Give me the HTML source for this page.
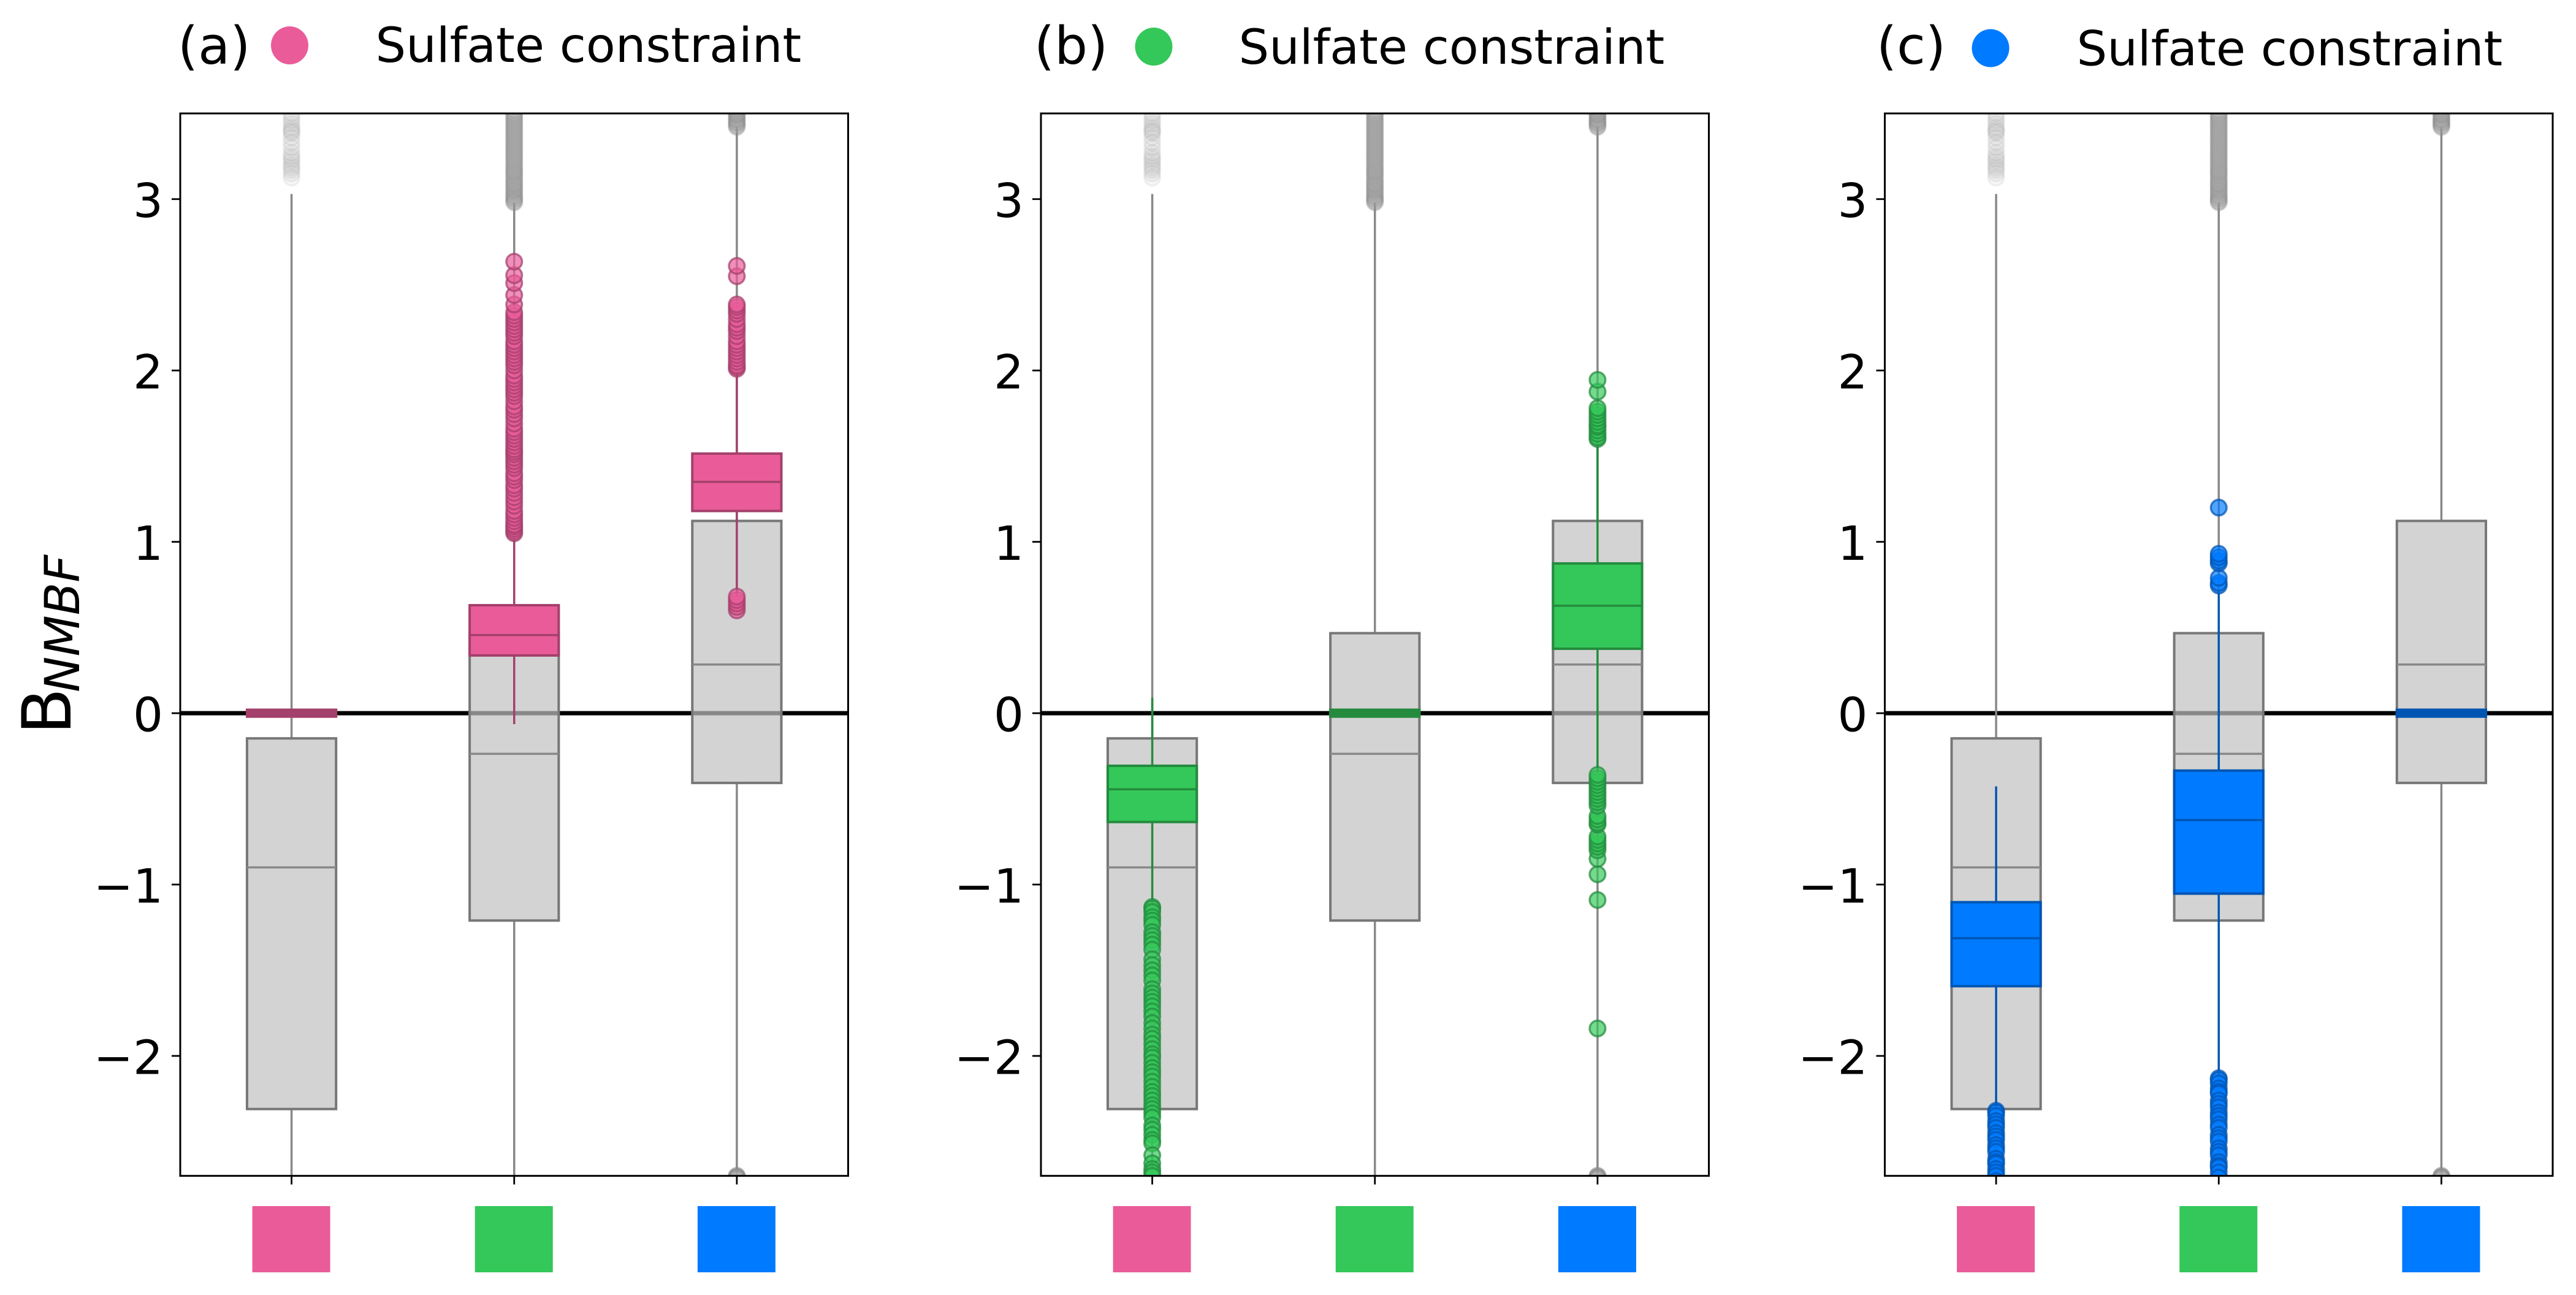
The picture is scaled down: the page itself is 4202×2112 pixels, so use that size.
<!DOCTYPE html>
<html lang="en">
<head>
<meta charset="utf-8">
<title>Sulfate constraint box plots</title>
<style>
html,body{margin:0;padding:0;background:#fff;width:4202px;height:2112px;overflow:hidden}
svg{display:block}
text{font-family:"DejaVu Sans","Liberation Sans",sans-serif;fill:#000}
</style>
</head>
<body>
<svg id="figure" xmlns="http://www.w3.org/2000/svg" width="4202" height="2112" viewBox="0 0 4202 2112">
  <rect x="0" y="0" width="4202" height="2112" fill="#fff"/>

  <text transform="translate(115,1198) rotate(-90)" font-size="111">B</text>
  <text transform="translate(129,1129) rotate(-90)" font-size="78" font-style="italic">NMBF</text>

  <g>
    <text x="290" y="104" font-size="85">(a)</text>
    <ellipse cx="472.5" cy="74" rx="30.5" ry="31" fill="#e95c99"/>
    <text x="612.5" y="101" font-size="78.3">Sulfate constraint</text>
  </g>
  <g>
    <text x="1687" y="104" font-size="85">(b)</text>
    <ellipse cx="1882" cy="76" rx="30.5" ry="31" fill="#34c759"/>
    <text x="2020.5" y="104" font-size="78.3">Sulfate constraint</text>
  </g>
  <g>
    <text x="3061" y="104" font-size="85">(c)</text>
    <ellipse cx="3247" cy="78.5" rx="30.5" ry="31" fill="#007aff"/>
    <text x="3387.5" y="106.5" font-size="78.3">Sulfate constraint</text>
  </g>
</svg>

<script>
// ---------- chart data ----------
const categories = ['pink', 'green', 'blue'];
const categoryColors = ['#e95c99', '#34c759', '#007aff'];
const categoryEdges = ['#a3406b', '#248b3e', '#0055b2'];
const panelNames = ['a', 'b', 'c'];
const yTickValues = [-2, -1, 0, 1, 2, 3];
const yTickLabels = ['\u22122', '\u22121', '0', '1', '2', '3'];

// reference (gray) boxes, shared by every panel
const grayQ1 = [-2.31, -1.21, -0.407];
const grayMedian = [-0.9, -0.237, 0.284];
const grayQ3 = [-0.147, 0.467, 1.122];
const grayWhiskerLow = [-2.95, -2.95, -2.7];
const grayWhiskerHigh = [3.03, 2.98, 3.42];
const grayFlierOpacity = [0.09, 0.19, 0.19];
const grayFliers1 = [3.125, 3.15, 3.17, 3.185, 3.2, 3.22, 3.235, 3.25, 3.27, 3.3, 3.33, 3.36, 3.385, 3.395, 3.405, 3.42, 3.44, 3.46, 3.48, 3.5];
const grayFliers2 = [2.98, 2.985, 2.99, 3.0, 3.005, 3.015, 3.02, 3.03, 3.04, 3.05, 3.055, 3.065, 3.075, 3.085, 3.09, 3.1, 3.11, 3.12, 3.13, 3.14, 3.15, 3.16, 3.165, 3.175, 3.185, 3.195, 3.205, 3.215, 3.225, 3.235, 3.245, 3.255, 3.265, 3.275, 3.285, 3.295, 3.305, 3.315, 3.325, 3.335, 3.345, 3.355, 3.365, 3.375, 3.385, 3.395, 3.405, 3.415, 3.425, 3.435, 3.445, 3.455, 3.465, 3.475, 3.485, 3.495, 3.505, 3.52];
const grayFliers3 = [-2.7, -2.7, -2.7, -2.705, -2.705, -2.71, -2.71, -2.71, -2.715, -2.72, 3.42, 3.425, 3.43, 3.44, 3.445, 3.45, 3.46, 3.465, 3.47, 3.48, 3.49, 3.495, 3.5, 3.51, 3.52, 3.53];

// panel (a)
const aQ1 = [-0.02, 0.337, 1.18];
const aMedian = [0, 0.456, 1.35];
const aQ3 = [0.02, 0.63, 1.515];
const aWhiskerLow = [-0.02, -0.064, 0.68];
const aWhiskerHigh = [0.02, 1.05, 2.0];
const aFliers1 = [];
const aFliers2 = [1.05, 1.06, 1.075, 1.09, 1.1, 1.12, 1.14, 1.16, 1.18, 1.21, 1.235, 1.26, 1.285, 1.31, 1.33, 1.36, 1.38, 1.4, 1.43, 1.45, 1.47, 1.49, 1.51, 1.525, 1.54, 1.56, 1.58, 1.6, 1.62, 1.64, 1.66, 1.69, 1.72, 1.745, 1.77, 1.79, 1.82, 1.85, 1.87, 1.89, 1.91, 1.93, 1.95, 1.97, 2.0, 2.03, 2.05, 2.07, 2.09, 2.11, 2.13, 2.15, 2.17, 2.2, 2.22, 2.24, 2.26, 2.28, 2.3, 2.32, 2.34, 2.385, 2.44, 2.51, 2.556, 2.635];
const aFliers3 = [0.6, 0.62, 0.64, 0.66, 0.68, 2.01, 2.02, 2.03, 2.05, 2.07, 2.09, 2.11, 2.13, 2.15, 2.17, 2.2, 2.23, 2.25, 2.27, 2.3, 2.33, 2.35, 2.37, 2.385, 2.55, 2.61];

// panel (b)
const bQ1 = [-0.635, -0.02, 0.376];
const bMedian = [-0.444, 0, 0.627];
const bQ3 = [-0.307, 0.02, 0.874];
const bWhiskerLow = [-1.12, -0.02, -0.36];
const bWhiskerHigh = [0.09, 0.02, 1.6];
const bFliers1 = [-1.131, -1.14, -1.16, -1.19, -1.21, -1.235, -1.278, -1.3, -1.325, -1.35, -1.38, -1.436, -1.47, -1.5, -1.53, -1.56, -1.61, -1.635, -1.66, -1.684, -1.71, -1.74, -1.77, -1.808, -1.84, -1.875, -1.9, -1.93, -1.96, -1.99, -2.01, -2.04, -2.07, -2.095, -2.12, -2.15, -2.18, -2.21, -2.234, -2.26, -2.287, -2.31, -2.335, -2.36, -2.406, -2.43, -2.46, -2.49, -2.51, -2.58, -2.627, -2.66, -2.68, -2.7];
const bFliers2 = [];
const bFliers3 = [-1.84, -1.09, -0.94, -0.85, -0.8, -0.78, -0.76, -0.74, -0.72, -0.65, -0.64, -0.62, -0.6, -0.54, -0.52, -0.5, -0.48, -0.46, -0.44, -0.42, -0.4, -0.38, -0.36, 1.6, 1.61, 1.63, 1.65, 1.67, 1.68, 1.7, 1.72, 1.74, 1.76, 1.78, 1.876, 1.945];

// panel (c)
const cQ1 = [-1.593, -1.053, -0.02];
const cMedian = [-1.313, -0.624, 0];
const cQ3 = [-1.103, -0.335, 0.02];
const cWhiskerLow = [-2.3, -2.13, -0.02];
const cWhiskerHigh = [-0.427, 0.72, 0.02];
const cFliers1 = [-2.32, -2.33, -2.35, -2.38, -2.4, -2.42, -2.45, -2.47, -2.49, -2.52, -2.54, -2.56, -2.6, -2.62, -2.63, -2.66, -2.68, -2.7, -2.73];
const cFliers2 = [-2.13, -2.14, -2.16, -2.19, -2.21, -2.22, -2.26, -2.28, -2.3, -2.33, -2.35, -2.37, -2.4, -2.42, -2.46, -2.48, -2.5, -2.54, -2.56, -2.58, -2.62, -2.64, -2.65, -2.68, -2.71, 0.745, 0.76, 0.79, 0.875, 0.89, 0.91, 0.93, 1.2];
const cFliers3 = [];

const panelStats = [
  { q1: aQ1, med: aMedian, q3: aQ3, lo: aWhiskerLow, hi: aWhiskerHigh, fl: [aFliers1, aFliers2, aFliers3] },
  { q1: bQ1, med: bMedian, q3: bQ3, lo: bWhiskerLow, hi: bWhiskerHigh, fl: [bFliers1, bFliers2, bFliers3] },
  { q1: cQ1, med: cMedian, q3: cQ3, lo: cWhiskerLow, hi: cWhiskerHigh, fl: [cFliers1, cFliers2, cFliers3] }
];
const grayFliers = [grayFliers1, grayFliers2, grayFliers3];

// ---------- layout + axis functions ----------
const plotLeft = [294, 1698, 3074.5];
const plotW = 1089.5;
const plotTop = 185;
const plotBottom = 1917.7;
const yDomain = [-2.7, 3.5];
const boxSpan = 0.4;

function xScale(panel, value) {
  return plotLeft[panel] + (value + 0.5) * plotW / categories.length;
}
function yScale(value) {
  return plotBottom - (value - yDomain[0]) * (plotBottom - plotTop) / (yDomain[1] - yDomain[0]);
}
function xWidth(span) {
  return span * plotW / categories.length;
}

const NS = 'http://www.w3.org/2000/svg';
const svg = document.getElementById('figure');

function make(parent, tag, props) {
  const el = document.createElementNS(NS, tag);
  for (const k in props) el.setAttribute(k, props[k]);
  parent.appendChild(el);
  return el;
}

function drawWhiskers(g, panel, i, q1, q3, lo, hi, edge, kind) {
  const cx = xScale(panel, i);

  const whiskerUp = make(g, 'line', { x1: cx, x2: cx, y1: yScale(q3), y2: yScale(hi), stroke: edge, 'stroke-width': 3.5 });
  
  

  const whiskerDown = make(g, 'line', { x1: cx, x2: cx, y1: yScale(q1), y2: yScale(lo), stroke: edge, 'stroke-width': 3.5 });
  
  
}

function drawBoxBody(g, panel, i, q1, med, q3, fill, edge, medianColor, kind) {
  const cx = xScale(panel, i);
  const w = xWidth(boxSpan);
  const collapsed = (q3 - q1) < 0.06;

  const box = make(g, 'rect', {
    x: cx - w / 2, y: yScale(q3), width: w, height: yScale(q1) - yScale(q3),
    fill: collapsed ? edge : fill, stroke: edge, 'stroke-width': 4
  });
  
  

  const median = make(g, 'line', {
    x1: cx - w / 2, x2: cx + w / 2, y1: yScale(med), y2: yScale(med),
    stroke: medianColor, 'stroke-width': 3.5
  });
  
  
}

function drawFliers(g, panel, i, values, fill, edge, alpha, edgeAlpha, kind) {
  const cx = xScale(panel, i);
  values.forEach(function (v) {
    const c = make(g, 'circle', {
      cx: cx, cy: yScale(v), r: 12.8, fill: fill, 'fill-opacity': alpha,
      stroke: edge, 'stroke-opacity': edgeAlpha, 'stroke-width': 3.5
    });
    
    
  });
}

panelNames.forEach(function (name, p) {
  const left = plotLeft[p];

  const defs = make(svg, 'defs', {});
  const clip = make(defs, 'clipPath', { id: 'clip-' + name });
  make(clip, 'rect', { x: left, y: plotTop, width: plotW, height: plotBottom - plotTop });

  const panel = make(svg, 'g', {});
  
  

  const plot = make(panel, 'g', { 'clip-path': 'url(#clip-' + name + ')' });
  
  

  const zero = make(plot, 'line', { x1: left, x2: left + plotW, y1: yScale(0), y2: yScale(0), stroke: '#000', 'stroke-width': 7 });
  
  

  // gray reference boxes
  categories.forEach(function (cat, i) {
    drawWhiskers(plot, p, i, grayQ1[i], grayQ3[i], grayWhiskerLow[i], grayWhiskerHigh[i], '#888888', 'reference');
    drawFliers(plot, p, i, grayFliers[i], '#ababab', '#8a8a8a', grayFlierOpacity[i], grayFlierOpacity[i] * 1.2, 'reference');
    drawBoxBody(plot, p, i, grayQ1[i], grayMedian[i], grayQ3[i], 'rgba(193,193,193,0.71)', '#777777', '#888888', 'reference');
  });

  // constrained coloured boxes
  const s = panelStats[p];
  const fill = categoryColors[p];
  const edge = categoryEdges[p];
  categories.forEach(function (cat, i) {
    drawWhiskers(plot, p, i, s.q1[i], s.q3[i], s.lo[i], s.hi[i], edge, 'constrained');
    drawFliers(plot, p, i, s.fl[i], fill, edge, 0.68, 0.72, 'constrained');
    drawBoxBody(plot, p, i, s.q1[i], s.med[i], s.q3[i], fill, edge, edge, 'constrained');
  });

  // y ticks
  yTickValues.forEach(function (v, k) {
    const tick = make(panel, 'line', { x1: left - 14, x2: left, y1: yScale(v), y2: yScale(v), stroke: '#000', 'stroke-width': 2.8 });
    
    

    const label = make(panel, 'text', { x: left - 28, y: yScale(v) + 29.5, 'font-size': 77, 'text-anchor': 'end' });
    label.textContent = yTickLabels[k];
    
    
  });

  // x ticks + colour swatches
  categories.forEach(function (cat, i) {
    const cx = xScale(p, i);
    const tick = make(panel, 'line', { x1: cx, x2: cx, y1: plotBottom, y2: plotBottom + 14, stroke: '#000', 'stroke-width': 2.8 });
    
    

    const swatch = make(panel, 'rect', { x: cx - 64, y: 1967, width: 127, height: 108, fill: categoryColors[i] });
    
    
  });

  // frame
  const frame = make(panel, 'rect', { x: left, y: plotTop, width: plotW, height: plotBottom - plotTop, fill: 'none', stroke: '#000', 'stroke-width': 3 });
  
  
});
</script>
</body>
</html>
